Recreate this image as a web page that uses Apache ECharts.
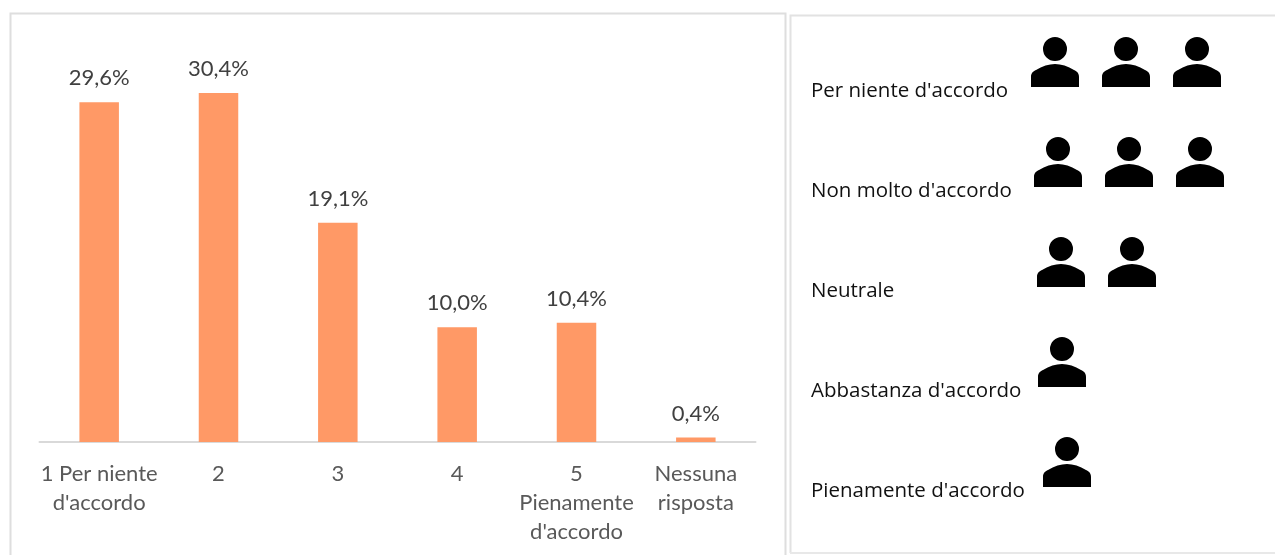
<!DOCTYPE html>
<html><head><meta charset="utf-8">
<style>html,body{margin:0;padding:0;background:#fff}#c{width:1275px;height:555px}</style>
<script src="https://cdn.jsdelivr.net/npm/echarts@6/dist/echarts.min.js"></script>
</head><body><div id="c"></div>
<script>
const barCategories = ["1 Per niente\nd'accordo", "2", "3", "4", "5\nPienamente\nd'accordo", "Nessuna\nrisposta"];
const barValues = [29.6, 30.4, 19.1, 10.0, 10.4, 0.4];
const rowLabels = ["Per niente d'accordo", "Non molto d'accordo", "Neutrale", "Abbastanza d'accordo", "Pienamente d'accordo"];
const iconCounts = [3, 3, 2, 1, 1];
const rowNudge = [0, 3, 6, 7, 12];

const person = 'path://M12 12a12 12 0 1 0 24 0a12 12 0 1 0-24 0Z M0 50V40C0 36 2 34.5 5 33C11 29 18 27 24 27C30 27 37 29 43 33C46 34.5 48 36 48 40V50Z';
const chart = echarts.init(document.getElementById('c'), null, {renderer:'canvas'});
const borderStyle = {fill:'none', stroke:'#dedede', lineWidth:2};
chart.setOption({
  animation:false,
  backgroundColor:'#fff',
  graphic:[
    {type:'polyline', shape:{points:[[10.5,560],[10.5,13.5],[785.5,13.5],[785.5,560]]}, style:borderStyle},
    {type:'polyline', shape:{points:[[790.5,553],[790.5,15.5],[1280,15.5]]}, style:{fill:'none', stroke:'#e2e2e2', lineWidth:2}},
    {type:'line', shape:{x1:790,y1:553,x2:1280,y2:553}, style:{stroke:'#e8e8e8', lineWidth:2}}
  ],
  grid:[
    {left:39.5, width:716, top:60, height:382},
    {left:1019.5, width:213, top:41, height:500}
  ],
  xAxis:[
    {type:'category', gridIndex:0, data:barCategories,
     axisLine:{lineStyle:{color:'#d9d9d9', width:2}}, axisTick:{show:false},
     axisLabel:{color:'#595959', fontFamily:'Lato', fontSize:22, lineHeight:29, margin:17, interval:0}},
    {type:'value', gridIndex:1, min:0, max:3, show:false}
  ],
  yAxis:[
    {type:'value', gridIndex:0, min:0, max:33.28, show:false},
    {type:'category', gridIndex:1, inverse:true, data:rowLabels,
     axisLine:{show:false}, axisTick:{show:false},
     axisLabel:{color:'#111111', fontFamily:'Open Sans', fontSize:20.5, align:'left', margin:208.5, interval:0}}
  ],
  series:[
    {type:'bar', xAxisIndex:0, yAxisIndex:0, data:barValues, barWidth:39.5,
     itemStyle:{color:'#ff9966'},
     label:{show:true, position:'top', distance:13, color:'#404040', fontFamily:'Lato', fontSize:22,
            formatter:p=>p.value.toFixed(1).replace('.',',')+'%'}},
    {type:'pictorialBar', xAxisIndex:1, yAxisIndex:1,
     data:iconCounts.map((v,i)=>({value:v, symbolOffset:[rowNudge[i],-29]})),
     symbol:person, symbolSize:[48,50], symbolRepeat:true, symbolMargin:'11.5!', symbolPosition:'start',
     itemStyle:{color:'#000'}}
  ]
});
</script></body></html>
